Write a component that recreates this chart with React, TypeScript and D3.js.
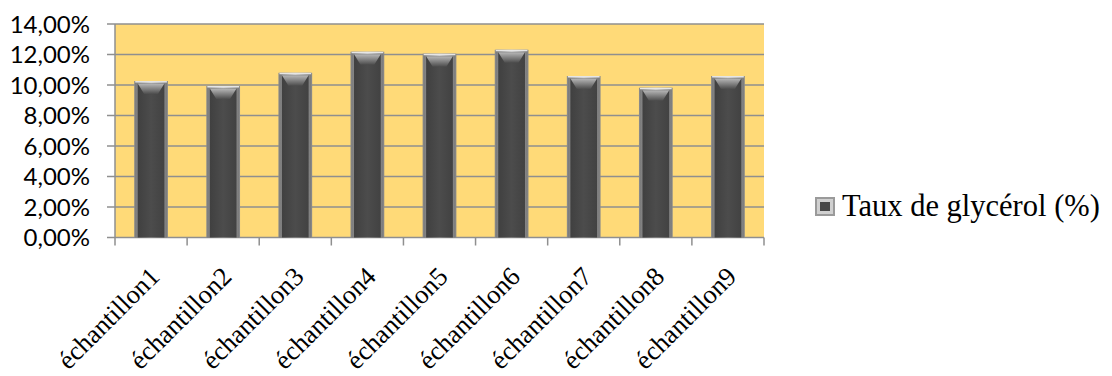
import React from "react";
import * as d3 from "d3";

const categories = [
  "échantillon1",
  "échantillon2",
  "échantillon3",
  "échantillon4",
  "échantillon5",
  "échantillon6",
  "échantillon7",
  "échantillon8",
  "échantillon9",
];
const glycerolRate = [10.26, 9.93, 10.8, 12.18, 12.05, 12.31, 10.59, 9.82, 10.59];
const yTicks = [0, 2, 4, 6, 8, 10, 12, 14];
const seriesName = "Taux de glycérol (%)";

const W = 1112;
const H = 376;
const plot = { left: 115, right: 764, top: 24, bottom: 237.5 };

const fmt = (v: number) => v.toFixed(2).replace(".", ",") + "%";

export default function App() {
  const x = d3
    .scaleBand<string>()
    .domain(categories)
    .range([plot.left, plot.right])
    .paddingInner(0.56)
    .paddingOuter(0.28);
  const y = d3.scaleLinear().domain([0, 14]).range([plot.bottom, plot.top]);
  const step = x.step();
  const bw = x.bandwidth();

  return (
    <svg
      width={W}
      height={H}
      style={{ position: "absolute", left: 0, top: 0, background: "#fff" }}
    >
      <defs>
        <linearGradient id="bevelTop" x1="0" y1="0" x2="0" y2="1">
          <stop offset="0" stopColor="#b8b8b8" />
          <stop offset="1" stopColor="#4c4c4c" />
        </linearGradient>
        <linearGradient id="barBody" x1="0" y1="0" x2="1" y2="0">
          <stop offset="0" stopColor="#404040" />
          <stop offset="0.5" stopColor="#4c4c4c" />
          <stop offset="1" stopColor="#424242" />
        </linearGradient>
        <linearGradient id="barEdge" x1="0" y1="0" x2="1" y2="0">
          <stop offset="0" stopColor="#7a7a7a" />
          <stop offset="0.5" stopColor="#c8c8c8" />
          <stop offset="1" stopColor="#7a7a7a" />
        </linearGradient>
      </defs>

      {/* plot area */}
      <rect
        x={plot.left}
        y={plot.top}
        width={plot.right - plot.left}
        height={plot.bottom - plot.top}
        fill="#FFDA78"
      />

      {/* horizontal gridlines */}
      {yTicks.map((t) => (
        <line
          key={"g" + t}
          x1={plot.left - 8}
          x2={plot.right}
          y1={y(t)}
          y2={y(t)}
          stroke="#8f8f8f"
          strokeWidth={1.5}
        />
      ))}

      {/* bars */}
      {categories.map((c, i) => {
        const bx = x(c)!;
        const top = y(glycerolRate[i]);
        const h = plot.bottom - top;
        const bevelH = Math.min(13, h);
        return (
          <g key={c}>
            <rect x={bx - 1} y={top} width={bw + 2} height={h} fill="#8a8a8a" />
            <rect x={bx} y={top} width={bw} height={h} fill="url(#barEdge)" />
            <rect
              x={bx + 2.5}
              y={top + 2.5}
              width={bw - 5}
              height={h - 2.5}
              fill="url(#barBody)"
            />
            <polygon
              points={[
                [bx + 2.5, top + 2.5],
                [bx + bw - 2.5, top + 2.5],
                [bx + bw - 9, top + bevelH],
                [bx + 9, top + bevelH],
              ]
                .map((p) => p.join(","))
                .join(" ")}
              fill="url(#bevelTop)"
            />
            <line
              x1={bx}
              x2={bx + bw}
              y1={top + 0.75}
              y2={top + 0.75}
              stroke="#e6e6e6"
              strokeWidth={1.5}
            />
          </g>
        );
      })}

      {/* axes */}
      <line
        x1={plot.left}
        x2={plot.left}
        y1={plot.top}
        y2={plot.bottom}
        stroke="#8f8f8f"
        strokeWidth={1.5}
      />
      {d3.range(categories.length + 1).map((k) => {
        const tx = plot.left + k * step;
        return (
          <line
            key={"t" + k}
            x1={tx}
            x2={tx}
            y1={plot.bottom}
            y2={plot.bottom + 8}
            stroke="#8f8f8f"
            strokeWidth={1.5}
          />
        );
      })}

      {/* y tick labels */}
      {yTicks.map((t) => (
        <text
          key={"l" + t}
          x={90}
          y={y(t)}
          dy="0.36em"
          textAnchor="end"
          fontFamily="Lato, 'Open Sans', sans-serif"
          fontSize={24}
          fill="#000"
        >
          {fmt(t)}
        </text>
      ))}

      {/* x category labels */}
      {categories.map((c) => {
        const cx = x(c)! + bw / 2;
        const ax = cx + 10;
        const ay = 278;
        return (
          <text
            key={"x" + c}
            x={ax}
            y={ay}
            textAnchor="end"
            transform={`rotate(-45 ${ax} ${ay})`}
            fontFamily="'Liberation Serif', 'Times New Roman', serif"
            fontSize={26.5}
            fill="#000"
          >
            {c}
          </text>
        );
      })}

      {/* legend */}
      <g>
        <rect x={815} y={197} width={20} height={19} fill="#9a9a9a" />
        <rect x={817} y={199} width={16} height={15} fill="#d0d0d0" />
        <rect x={820} y={202} width={10} height={9} fill="#484848" />
        <text
          x={842}
          y={216}
          fontFamily="'Liberation Serif', 'Times New Roman', serif"
          fontSize={30.5}
          fill="#000"
        >
          {seriesName}
        </text>
      </g>
    </svg>
  );
}
